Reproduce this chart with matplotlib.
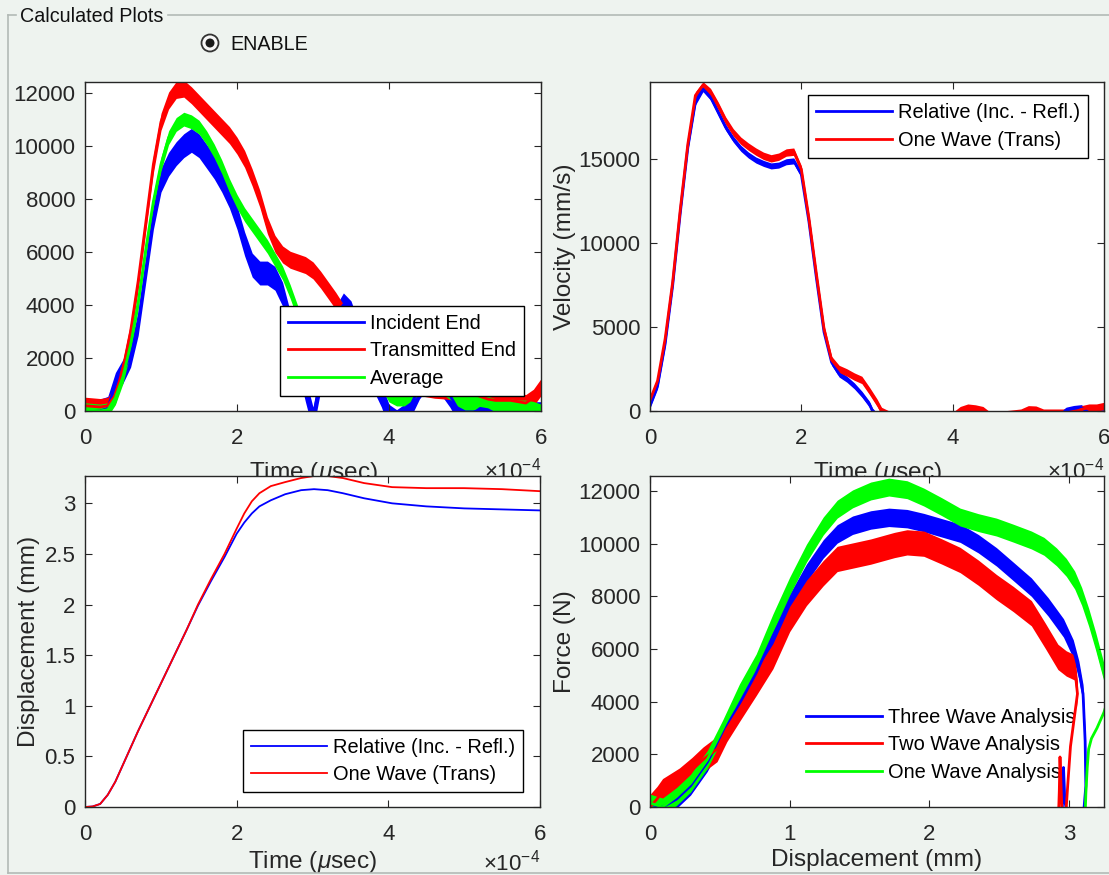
import numpy as np
import matplotlib
matplotlib.use("Agg")
import matplotlib.pyplot as plt
from matplotlib.lines import Line2D
from matplotlib.patches import Circle

# ---- data (time in units of 1e-4 s) ----
t_force = [0, 0.2, 0.3, 0.4, 0.5, 0.6, 0.7, 0.8, 0.9, 1.0, 1.1, 1.2, 1.3, 1.4, 1.5,
           1.6, 1.7, 1.8, 1.9, 2.0, 2.1, 2.2, 2.3, 2.4, 2.5, 2.6, 2.7, 2.8, 2.9, 3.0,
           3.1, 3.2, 3.3, 3.4, 3.5, 3.6, 3.7, 3.8, 3.9, 4.0, 4.1, 4.2, 4.3, 4.4, 4.5,
           4.6, 4.7, 4.8, 4.9, 5.0, 5.1, 5.2, 5.3, 5.4, 5.5, 5.6, 5.7, 5.8, 5.9, 6.0]
f_incident = [0, 0, 100, 1000, 1500, 2100, 3300, 5300, 7300, 8700, 9300, 9700, 10000, 10200, 10000,
              9600, 9200, 8700, 8100, 7300, 6300, 5500, 5200, 5200, 5000, 4400, 3300, 2000, 800, -300,
              1200, 2600, 3500, 4000, 3700, 2900, 2000, 1200, 600, -200, -400, -200, 300, 900, 1300,
              1300, 1000, 600, 100, -200, -100, 100, 50, -100, -200, -200, -100, -100, -100, -100]
f_transmitted = [200, 150, 200, 600, 1600, 3000, 4900, 7100, 9300, 10900, 11700, 12100, 12150, 11900, 11600,
                 11300, 11000, 10700, 10400, 10000, 9500, 8800, 8000, 7000, 6300, 5900, 5700, 5600, 5500, 5300,
                 4950, 4550, 4150, 3700, 3300, 2900, 2500, 2100, 1700, 1400, 1250, 1100, 1000, 900, 850,
                 800, 780, 750, 720, 700, 650, 550, 450, 400, 400, 400, 350, 300, 500, 900]
f_average = [50, 0, 50, 500, 1300, 2500, 4100, 6100, 7900, 9300, 10300, 10800, 11000, 10900, 10700,
             10300, 9800, 9200, 8500, 7900, 7400, 7000, 6600, 6200, 5700, 5200, 4500, 3700, 3100, 2500,
             3000, 3400, 3600, 3700, 3400, 2900, 2200, 1600, 1100, 600, 450, 450, 650, 900, 1050,
             1050, 900, 700, 450, 300, 300, 350, 300, 200, 150, 200, 150, 150, 100, 0]

t_vel_rel = [0, 0.1, 0.2, 0.3, 0.4, 0.5, 0.6, 0.7, 0.8, 0.9, 1.0, 1.1, 1.2, 1.3, 1.4, 1.5, 1.6,
             1.7, 1.8, 1.9, 2.0, 2.1, 2.2, 2.3, 2.4, 2.5, 2.6, 2.7, 2.8, 2.9, 2.94, 3.0,
             5.4, 5.5, 5.6, 5.7, 5.8, 6.0]
v_rel = [350, 1500, 4000, 7500, 11800, 15700, 18400, 19200, 18700, 17800, 16900, 16200, 15650, 15250,
         14950, 14750, 14600, 14650, 14850, 14900, 14100, 11300, 7900, 4700, 2900, 2200, 1900, 1500,
         1000, 400, 0, -300, -300, 50, 150, 200, -100, -100]
t_vel_one = [0, 0.1, 0.2, 0.3, 0.4, 0.5, 0.6, 0.7, 0.8, 0.9, 1.0, 1.1, 1.2, 1.3, 1.4, 1.5, 1.6,
             1.7, 1.8, 1.9, 2.0, 2.1, 2.2, 2.3, 2.4, 2.5, 2.6, 2.7, 2.8, 2.9, 3.0, 3.06, 3.2,
             4.0, 4.1, 4.2, 4.3, 4.4, 4.5, 4.9, 5.0, 5.1, 5.2, 5.6, 5.7, 5.8, 5.9, 6.0]
v_one = [650, 1800, 4300, 7700, 12000, 15900, 18800, 19400, 19000, 18200, 17300, 16600, 16100, 15750,
         15450, 15200, 15050, 15150, 15400, 15450, 14400, 11500, 8140, 4900, 3040, 2500, 2300, 2050,
         1850, 1200, 500, 0, -300, -300, 50, 200, 150, 50, -300, -100, 100, 80, -100, -100, 100, 200,
         200, 300]

t_disp = [0, 0.1, 0.2, 0.3, 0.4, 0.55, 0.7, 0.86, 1.02, 1.18, 1.34, 1.49, 1.66, 1.84, 2.0, 2.1,
          2.2, 2.3, 2.45, 2.64, 2.85, 3.02, 3.2, 3.4, 3.68, 4.05, 4.5, 5.0, 5.5, 6.0]
d_rel = [0, 0.005, 0.03, 0.12, 0.25, 0.5, 0.75, 1.0, 1.25, 1.5, 1.75, 1.99, 2.23, 2.47, 2.7, 2.81,
         2.9, 2.97, 3.03, 3.09, 3.13, 3.14, 3.13, 3.1, 3.05, 3.0, 2.97, 2.95, 2.94, 2.93]
d_one = [0, 0.005, 0.03, 0.12, 0.25, 0.5, 0.75, 1.0, 1.25, 1.5, 1.75, 2.0, 2.25, 2.5, 2.75, 2.9,
         3.02, 3.1, 3.17, 3.21, 3.25, 3.27, 3.27, 3.25, 3.2, 3.16, 3.15, 3.15, 3.14, 3.12]

x_three = [0, 0.09, 0.19, 0.29, 0.41, 0.52, 0.62, 0.76, 0.88, 1.0, 1.12, 1.24, 1.34, 1.45, 1.58,
           1.71, 1.84, 1.96, 2.09, 2.22, 2.35, 2.48, 2.6, 2.73, 2.85, 2.96, 3.03, 3.07, 3.1,
           3.115, 3.12, 3.1, 3.05, 3.0, 2.97, 2.96, 2.955, 2.95]
F_three = [100, 0, 300, 800, 1700, 2800, 3720, 5090, 6490, 7750, 8880, 9800, 10370, 10700, 10900,
           11000, 10950, 10800, 10600, 10400, 10000, 9500, 8950, 8350, 7600, 6800, 6000, 5200, 4300,
           2500, 800, -500, -800, -600, 200, 1500, 600, -300]
x_two = [0, 0.05, 0.09, 0.21, 0.3, 0.38, 0.48, 0.55, 0.64, 0.76, 0.88, 1.0, 1.12, 1.24, 1.34, 1.58,
         1.75, 1.84, 1.96, 2.09, 2.22, 2.35, 2.48, 2.6, 2.73, 2.83, 2.92, 2.98, 3.04, 3.06,
         3.04, 3.01, 2.99, 2.98, 2.97, 2.95, 2.935, 2.93, 2.925]
F_two = [0, 300, 600, 1000, 1400, 1800, 2200, 2960, 3720, 4710, 5730, 7140, 8130, 8880, 9420, 9700,
         9950, 10050, 10000, 9700, 9380, 8900, 8350, 7900, 7360, 6500, 5700, 5450, 5300, 4300,
         3500, 2300, 800, 0, -500, -300, 1900, 600, -200]
x_one = [0, 0.09, 0.19, 0.29, 0.41, 0.52, 0.64, 0.76, 0.88, 1.0, 1.12, 1.24, 1.34, 1.45, 1.58, 1.71,
         1.84, 1.96, 2.09, 2.22, 2.35, 2.48, 2.6, 2.73, 2.82, 2.91, 2.98, 3.04, 3.09, 3.14, 3.19,
         3.24, 3.29, 3.25, 3.2, 3.16, 3.14, 3.13, 3.12, 3.115]
F_one = [150, 0, 400, 900, 1800, 2960, 4330, 5470, 6990, 8390, 9640, 10670, 11310, 11700, 12000,
         12150, 12050, 11770, 11400, 11010, 10800, 10630, 10400, 10140, 9900, 9500, 9100, 8620, 8000,
         7210, 6300, 5300, 4300, 3600, 3000, 2600, 2200, 1500, 500, -300]

BLUE, RED, GREEN = "#0000ff", "#ff0000", "#00ff00"
INK = "#262626"
BG = "#eef3ef"

plt.rcParams["font.family"] = "Liberation Sans"
plt.rcParams["mathtext.fontset"] = "custom"
plt.rcParams["mathtext.rm"] = "Liberation Sans"
plt.rcParams["mathtext.it"] = "Liberation Sans:italic"

W, H = 1109, 875
fig = plt.figure(figsize=(W / 100, H / 100), dpi=100)
fig.patch.set_facecolor(BG)


def rect(l, t, r, b):
    return [l / W, 1 - b / H, (r - l) / W, (b - t) / H]


def noisy(ax, x, y, half, color, label, lw=2.0):
    x = np.asarray(x, float)
    y = np.asarray(y, float)
    k = int(np.argmax(x)) + 1
    ax.fill_between(x[:k], y[:k] - half, y[:k] + half, color=color, lw=0)
    ax.plot(x, y, color=color, lw=lw, label=label)


def style(ax, xlim, ylim, xticks, yticks):
    ax.set_xlim(*xlim)
    ax.set_ylim(*ylim)
    ax.set_xticks(xticks)
    ax.set_xticklabels([f"{v:g}" for v in xticks])
    ax.set_yticks(yticks)
    ax.set_yticklabels([f"{v:g}" for v in yticks])
    ax.tick_params(direction="in", top=True, right=True, length=5, width=0.8,
                   colors=INK, labelsize=16)
    ax.tick_params(axis="x", pad=12)
    ax.tick_params(axis="y", pad=7)
    for s in ax.spines.values():
        s.set_color(INK)
        s.set_linewidth(1.0)


def legend(ax, **kw):
    leg = ax.legend(fontsize=14.4, handlelength=3.8, handletextpad=0.3, labelspacing=0.42,
                    borderaxespad=0, fancybox=False, **kw)
    leg.get_frame().set_edgecolor("black")
    leg.get_frame().set_linewidth(1.0)
    return leg


def time_axis(ax, pad=8, exp_y=-0.143):
    ax.set_xlabel(r"Time ($\mu$sec)", fontsize=17.6, color=INK, labelpad=pad)
    ax.text(1.0, exp_y, r"×10$^{-4}$", transform=ax.transAxes, ha="right", va="top",
            fontsize=16, color=INK, clip_on=False)


# top left: forces at both ends
ax1 = fig.add_axes(rect(85, 82, 541, 411))
noisy(ax1, t_force, f_incident, 450, BLUE, "Incident End")
noisy(ax1, t_force, f_transmitted, 320, RED, "Transmitted End")
noisy(ax1, t_force, f_average, 260, GREEN, "Average")
style(ax1, (0, 6), (0, 12400), [0, 2, 4, 6], np.arange(0, 12001, 2000))
time_axis(ax1)
legend(ax1, loc="lower right", bbox_to_anchor=(0.962, 0.046), framealpha=1)

# top right: velocity
ax2 = fig.add_axes(rect(650, 82, 1104, 411))
noisy(ax2, t_vel_rel, v_rel, 180, BLUE, "Relative (Inc. - Refl.)")
noisy(ax2, t_vel_one, v_one, 220, RED, "One Wave (Trans)")
style(ax2, (0, 6), (0, 19600), [0, 2, 4, 6], [0, 5000, 10000, 15000])
time_axis(ax2)
ax2.set_ylabel("Velocity (mm/s)", fontsize=17.6, color=INK, labelpad=2)
legend(ax2, loc="upper right", bbox_to_anchor=(0.965, 0.96), framealpha=1)

# bottom left: displacement
ax3 = fig.add_axes(rect(85, 476, 540, 807))
ax3.plot(t_disp, d_rel, color=BLUE, lw=1.3, label="Relative (Inc. - Refl.)")
ax3.plot(t_disp, d_one, color=RED, lw=1.3, label="One Wave (Trans)")
style(ax3, (0, 6), (0, 3.27), [0, 2, 4, 6], np.arange(0, 3.01, 0.5))
time_axis(ax3, pad=3, exp_y=-0.128)
ax3.set_ylabel("Displacement (mm)", fontsize=17.6, color=INK, labelpad=3)
legend(ax3, loc="lower right", bbox_to_anchor=(0.963, 0.045), framealpha=1)

# bottom right: force vs displacement
ax4 = fig.add_axes(rect(650, 476, 1104, 807))
noisy(ax4, x_three, F_three, 350, BLUE, "Three Wave Analysis")
noisy(ax4, x_two, F_two, 480, RED, "Two Wave Analysis")
noisy(ax4, x_one, F_one, 340, GREEN, "One Wave Analysis")
style(ax4, (0, 3.25), (0, 12570), [0, 1, 2, 3], np.arange(0, 12001, 2000))
ax4.set_xlabel("Displacement (mm)", fontsize=17.6, color=INK, labelpad=3)
ax4.set_ylabel("Force (N)", fontsize=17.6, color=INK, labelpad=2)
leg4 = ax4.legend(fontsize=14.4, handlelength=3.8, handletextpad=0.3, labelspacing=0.42,
                  loc="upper left", bbox_to_anchor=(0.344, 0.30), borderaxespad=0,
                  borderpad=0, frameon=False)
leg4.set_zorder(1.5)

# GUI group box and radio button
line_kw = dict(color="#b3bab6", lw=1.2, transform=fig.transFigure)
fig.add_artist(Line2D([8 / W, 16 / W], [1 - 15 / H, 1 - 15 / H], **line_kw))
fig.add_artist(Line2D([168 / W, 1], [1 - 15 / H, 1 - 15 / H], **line_kw))
fig.add_artist(Line2D([8 / W, 8 / W], [1 - 15 / H, 1 - 873 / H], **line_kw))
fig.add_artist(Line2D([8 / W, 1], [1 - 873 / H, 1 - 873 / H], **line_kw))
fig.text(20 / W, 1 - 16 / H, "Calculated Plots", fontsize=14.2, color="#111111", va="center")
fig.text(230 / W, 1 - 44 / H, "ENABLE", fontsize=14.2, color="#111111", va="center")
fig.add_artist(Circle((2.10, (H - 43) / 100), 0.085, transform=fig.dpi_scale_trans,
                      facecolor="#f7f7f7", edgecolor="#333333", lw=1.3))
fig.add_artist(Circle((2.10, (H - 43) / 100), 0.045, transform=fig.dpi_scale_trans,
                      facecolor="#1a1a1a", edgecolor="none"))

fig.savefig("out.png", dpi=100, facecolor=BG)
